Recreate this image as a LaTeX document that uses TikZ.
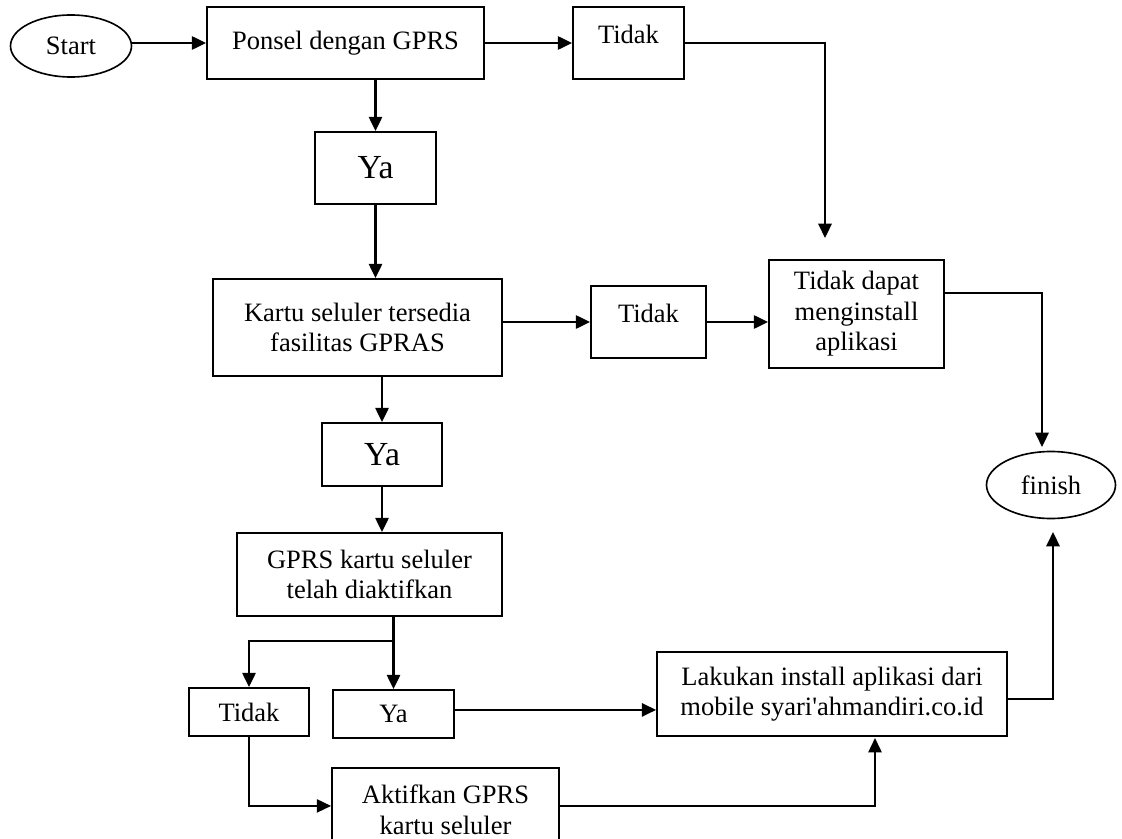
\documentclass[tikz,border=0pt]{standalone}
\usepackage{fontspec}
\setmainfont{Liberation Serif}
\usetikzlibrary{shapes.geometric,arrows.meta}
\tikzset{
    kotak/.style={draw,line width=0.9pt,inner sep=0pt,align=center,font=\fontsize{13}{15}\selectfont},
    elips/.style={draw,ellipse,line width=0.8pt,inner sep=0pt,font=\fontsize{13}{15}\selectfont},
    besar/.style={font=\fontsize{16.5}{19}\selectfont},
    atas/.style={text depth=8.8pt},
    ukuran/.style 2 args={minimum width=#1*0.49pt,minimum height=#2*0.49pt},
    panah/.style={line width=1.1pt,-{Triangle[length=7pt,width=6.5pt]}},
    garis/.style={line width=1.1pt},
    tipis/.style={line width=0.75pt}
}

\begin{document}
\begin{tikzpicture}[x=0.49pt,y=-0.49pt]
    \useasboundingbox (0,0) rectangle (1122,838);
    \node [elips,ukuran={121}{62}] (start) at (71,46) {Start};
    \node [kotak,ukuran={277}{72}] (ponsel) at (345.5,43) {Ponsel dengan GPRS};
    \node [kotak,atas,ukuran={111}{72}] (tidakA) at (628.5,43) {Tidak};
    \node [kotak,besar,ukuran={121}{72}] (yaA) at (375.5,168) {Ya};
    \node [kotak,ukuran={289}{97}] (kartu) at (357.5,327.5) {Kartu seluler tersedia\\fasilitas GPRAS};
    \node [kotak,atas,ukuran={115}{72}] (tidakB) at (648.5,322) {Tidak};
    \node [kotak,ukuran={175}{108}] (gagal) at (856.5,314) {Tidak dapat\\menginstall\\aplikasi};
    \node [elips,ukuran={129}{67}] (finish) at (1051,485) {finish};
    \node [kotak,besar,ukuran={120}{63}] (yaB) at (382,454.5) {Ya};
    \node [kotak,ukuran={265}{83}] (gprs) at (369.5,574.5) {GPRS kartu seluler\\telah diaktifkan};
    \node [kotak,ukuran={120}{48}] (tidakC) at (249,712) {Tidak};
    \node [kotak,ukuran={121}{48}] (yaC) at (393.5,714) {Ya};
    \node [kotak,ukuran={350}{84}] (lakukan) at (832,694) {Lakukan install aplikasi dari\\mobile syari\textquotesingle ahmandiri.co.id};
    \node [kotak,ukuran={227}{84}] (aktifkan) at (445.5,810) {Aktifkan GPRS\\kartu seluler};

    \coordinate (belok1) at (825,238);
    \coordinate (belok2) at (1042,447);
    \coordinate (belok3) at (1053,532);
    \coordinate (belok4) at (875,738);
    \coordinate (cabang) at (393.5,641);

    \draw [panah] (start.east |- ponsel.west) -- (ponsel.west);
    \draw [panah] (ponsel.east) -- (tidakA.west);
    \draw [panah] (yaA.north |- ponsel.south) -- (yaA.north);
    \draw [panah] (yaA.south) -- (yaA.south |- kartu.north);
    \draw [panah] (kartu.east |- tidakB.west) -- (tidakB.west);
    \draw [panah] (tidakB.east) -- (tidakB.east -| gagal.west);
    \draw [panah] (tidakA.east) -| (belok1);
    \draw [panah] ([yshift=10.3pt]gagal.east) -| (belok2);
    \draw [panah] ([yshift=-2.5pt]lakukan.east) -| (belok3);
    \draw [panah] (yaB.north |- kartu.south) -- (yaB.north);
    \draw [panah] (yaB.south) -- (yaB.south |- gprs.north);
    \draw [garis] (gprs.south -| cabang) -- (cabang);
    \draw [panah] (cabang) -- (yaC.north);
    \draw [panah] (cabang) -| (tidakC.north);
    \draw [panah] ([yshift=2pt]yaC.east) -- ([yshift=2pt]yaC.east -| lakukan.west);
    \draw [panah,tipis] (tidakC.south) |- ([yshift=2pt]aktifkan.west);
    \draw [panah,tipis] ([yshift=2pt]aktifkan.east) -| (belok4);
\end{tikzpicture}
\end{document}
